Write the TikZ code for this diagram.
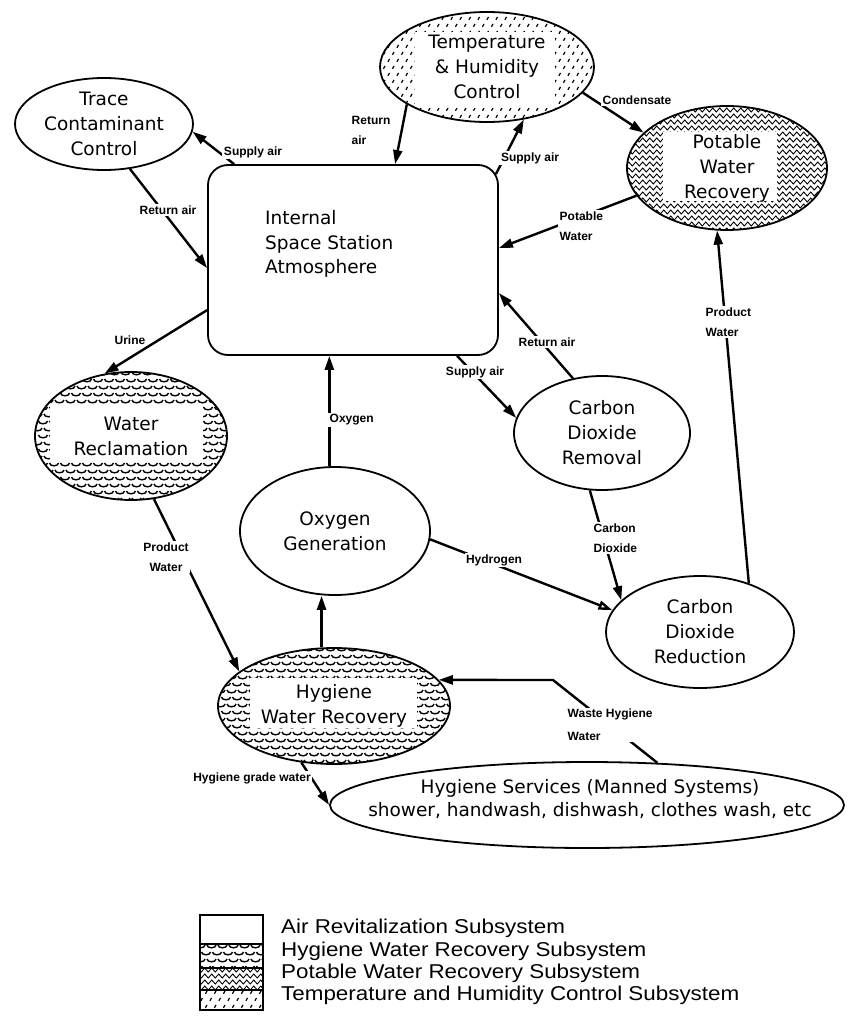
\documentclass[tikz,border=0pt]{standalone}
\usepackage{fontspec}
\setmainfont{Liberation Sans}
\newfontfamily\nodefont{DejaVu Sans}
\newfontfamily\legfont[FakeStretch=1.12]{Liberation Sans}
\usetikzlibrary{shapes.geometric,arrows.meta,calc,decorations.pathmorphing}
% scale pattern (hygiene water)
\newcommand\hygpat[4]{%
  \foreach \r in {0,...,#4}{%
    \foreach \c in {0,...,#3}{%
      \pgfmathsetmacro\px{#1+11*\c+5.5*mod(\r,2)}%
      \pgfmathsetmacro\py{#2+7*\r}%
      \draw[line width=1.4pt] (\px,\py) arc[start angle=180,end angle=0,x radius=4.5,y radius=2.8];
    }%
  }%
}
% zigzag pattern (potable water)
\newcommand\potpat[4]{%
  \foreach \r in {0,...,#4}{%
    \pgfmathsetmacro\py{#2+6*\r}%
    \draw[line width=0.9pt,decorate,decoration={zigzag,segment length=7pt,amplitude=2pt}] (#1,\py) -- (#3,\py);
  }%
}
% dash pattern (temperature & humidity)
\newcommand\tmppat[4]{%
  \foreach \r in {0,...,#4}{%
    \foreach \c in {0,...,#3}{%
      \pgfmathsetmacro\px{#1+9*\c+4.5*mod(\r,2)}%
      \pgfmathsetmacro\py{#2+7*\r}%
      \draw[line width=1.2pt] (\px,\py) -- ++(-1.6,2.8);
    }%
  }%
}
\begin{document}
\begin{tikzpicture}[x=1pt,y=-1pt,
  bub/.style={ellipse, draw, line width=1.8pt, inner sep=0pt, align=center,
    font=\nodefont\fontsize{18.5pt}{25pt}\selectfont},
  flow/.style={line width=2.4pt, -{Triangle[length=14pt,width=9pt]}},
  flowopen/.style={line width=2.4pt, -{Triangle[open,length=14pt,width=9pt]}},
  lbl/.style={font=\bfseries\fontsize{12pt}{20pt}\selectfont, fill=white, inner sep=1.5pt, align=left},
  legtxt/.style={anchor=west, font=\legfont\fontsize{20pt}{23pt}\selectfont, inner sep=0pt}]
\useasboundingbox (0,0) rectangle (849,1025);

% ---------- patterns ----------
\begin{scope}
  \clip (487,67) ellipse [x radius=107, y radius=55];
  \tmppat{376}{10}{25}{16}
  \fill[white] (415,32) rectangle (555,108);
\end{scope}
\begin{scope}
  \clip (727,168) ellipse [x radius=100, y radius=62];
  \potpat{620}{104}{835}{22}
  \fill[white] (663,132) rectangle (777,201);
\end{scope}
\begin{scope}
  \clip (131,436) ellipse [x radius=96, y radius=64];
  \hygpat{33}{372}{18}{19}
  \fill[white] (50,405) rectangle (203,460);
\end{scope}
\begin{scope}
  \clip (334,706) ellipse [x radius=116, y radius=58];
  \hygpat{216}{648}{21}{17}
  \fill[white] (250,678) rectangle (417,728);
\end{scope}

% ---------- nodes ----------
\node[bub, minimum width=178pt, minimum height=92pt] (tcc) at (104,124) {Trace\\Contaminant\\Control};
\node[bub, minimum width=214pt, minimum height=110pt] (thc) at (487,67) {Temperature\\\& Humidity\\Control};
\node[bub, minimum width=200pt, minimum height=124pt] (pwr) at (727,168) {Potable\\Water\\Recovery};
\node[draw, line width=1.8pt, rounded corners=20pt, minimum width=290pt, minimum height=190pt] (atm) at (353,260) {};
\node[anchor=west, align=left, inner sep=0pt, font=\nodefont\fontsize{18.5pt}{24.5pt}\selectfont] (atmt) at (265,244) {Internal\\Space Station\\Atmosphere};
\node[bub, minimum width=192pt, minimum height=128pt] (wrc) at (131,436) {Water\\Reclamation};
\node[bub, minimum width=190pt, minimum height=128pt] (ogn) at (335,531) {Oxygen\\Generation};
\node[bub, minimum width=176pt, minimum height=114pt] (cdr) at (602,433) {Carbon\\Dioxide\\Removal};
\node[bub, minimum width=188pt, minimum height=112pt] (cdx) at (700,632) {Carbon\\Dioxide\\Reduction};
\node[bub, minimum width=232pt, minimum height=116pt] (hwr) at (334,706) {Hygiene\\Water Recovery};
\node[bub, minimum width=514pt, minimum height=86pt] (hsv) at (587,805) {};
\node[align=center, inner sep=0pt, font=\nodefont\fontsize{18.5pt}{23pt}\selectfont] (hsvt) at (590,799) {Hygiene Services (Manned Systems)\\shower, handwash, dishwash, clothes wash, etc};

% ---------- connectors ----------
\draw[flow] ($(atm.north west)+(27,0)$) -- (tcc.-5);
\draw[flow] (tcc.-60) -- ($(atm.north west)+(0,104)$);
\draw[flow] (thc.205) -- ($(atm.north west)+(188,0)$);
\draw[flow] ($(atm.north east)+(-3,10)$) -- (thc.-55);
\draw[flow] (thc.-15) -- (pwr.157);
\draw[flow] (pwr.197) -- ($(atm.north east)+(0,84)$);
\draw[flow] (cdx.45) -- (pwr.-99);
\draw[flow] (cdr.118) -- ($(atm.north east)+(0,129)$);
\draw[flow] ($(atm.south west)+(250,0)$) -- (cdr.170);
\draw[flow] ($(atm.north west)+(0,146)$) -- (wrc.113);
\draw[flow] (ogn.95) -- (ogn.95 |- atm.south);
\draw[flow] (wrc.-70) -- (hwr.160);
\draw[flow] (cdr.-102) -- (cdx.158);
\draw[flowopen] (ogn.-5) -- (cdx.166);
\draw[flow] (hwr.102) -- (hwr.102 |- ogn.south);
\coordinate (wk) at (553,680);
\draw[flow] (hsv.31) -- (wk) -- (hwr.14);
\draw[flow] (hwr.-120) -- (hsv.180);

% ---------- labels ----------
\node[lbl] (l1) at (253,152) {Supply air};
\node[lbl] (l2) at (168,210) {Return air};
\node[lbl, anchor=west] (l3) at (350,130) {Return\\air};
\node[lbl] (l4) at (530,158) {Supply air};
\node[lbl] (l5) at (637,100) {Condensate};
\node[lbl, anchor=west] (l6) at (558,226) {Potable\\Water};
\node[lbl, anchor=west] (l7) at (704,322) {Product\\Water};
\node[lbl] (l8) at (547,342) {Return air};
\node[lbl] (l9) at (475,372) {Supply air};
\node[lbl] (l10) at (130,340) {Urine};
\node[lbl, anchor=west] (l11) at (328,420) {Oxygen};
\node[lbl, align=center] (l12) at (166,557) {Product\\Water};
\node[lbl, anchor=west] (l13) at (592,538) {Carbon\\Dioxide};
\node[lbl] (l14) at (494,560) {Hydrogen};
\node[lbl, anchor=west, font=\bfseries\fontsize{12pt}{23pt}\selectfont] (l15) at (566,725) {Waste Hygiene\\Water};
\node[lbl] (l16) at (252,778) {Hygiene grade water};

% ---------- legend ----------
\begin{scope}
  \clip (200,944) rectangle (263,968);
  \hygpat{196}{945}{6}{4}
\end{scope}
\begin{scope}
  \clip (200,968) rectangle (263,990);
  \potpat{196}{970}{268}{4}
\end{scope}
\begin{scope}
  \clip (200,990) rectangle (263,1010);
  \tmppat{198}{991}{8}{3}
\end{scope}
\draw[line width=1.6pt] (200,915) rectangle (263,1010);
\draw[line width=1.4pt] (200,944) -- (263,944) (200,968) -- (263,968) (200,990) -- (263,990);
\node[legtxt] (lg1) at (281,928) {Air Revitalization Subsystem};
\node[legtxt] (lg2) at (281,951) {Hygiene Water Recovery Subsystem};
\node[legtxt] (lg3) at (281,973) {Potable Water Recovery Subsystem};
\node[legtxt] (lg4) at (281,995) {Temperature and Humidity Control Subsystem};
\end{tikzpicture}
\end{document}
